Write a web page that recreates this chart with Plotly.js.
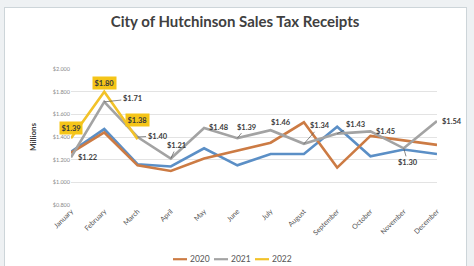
<!DOCTYPE html>
<html>
<head>
<meta charset="utf-8">
<script src="https://cdn.plot.ly/plotly-3.0.1.min.js"></script>
<style>
  body { margin: 0; background: #eef1f3; }
  #frame { position: absolute; left: 4px; top: 7px; width: 461px; height: 270px;
           background: #fff; border: 1px solid #cdd5d9; }
  #chart { position: absolute; left: 0; top: 0; width: 474px; height: 266px; }
</style>
</head>
<body>
<div id="frame"></div>
<div id="chart"></div>
<script>
let months = ["January", "February", "March", "April", "May", "June", "July",
  "August", "September", "October", "November", "December"];
let s2019 = [1.27, 1.47, 1.16, 1.14, 1.30, 1.15, 1.25, 1.25, 1.49, 1.23, 1.29, 1.25];
let s2020 = [1.26, 1.44, 1.15, 1.10, 1.21, 1.28, 1.35, 1.53, 1.13, 1.41, 1.37, 1.33];
let s2021 = [1.22, 1.71, 1.40, 1.21, 1.48, 1.39, 1.46, 1.34, 1.43, 1.45, 1.30, 1.54];
let s2022 = [1.39, 1.80, 1.38];
let yTicks = [0.8, 1.0, 1.2, 1.4, 1.6, 1.8, 2.0];

// label offsets in px [ax, ay, leader line]
let off2021 = [[16, 0, 0], [28, -3, 1], [20, -1, 1], [6, -13, 1], [15, 0, 0], [9, -11, 1],
  [10, -8, 0], [16, -18, 1], [18, -9, 1], [15, 0, 0], [4, 14, 1], [15, 0, 0]];
let off2022 = [[0, -10], [0, -9], [0, -19]];

function line(y, name, color, legend) {
  return {
    x: months.slice(0, y.length), y: y, name: name, type: "scatter", mode: "lines",
    line: { color: color, width: 2.6 }, showlegend: legend
  };
}

let data = [
  line(s2019, "2019", "#5b8fc6", false),
  line(s2020, "2020", "#cc7b44", true),
  line(s2021, "2021", "#a3a3a3", true),
  line(s2022, "2022", "#f2c229", true)
];

let annotations = [];
s2021.forEach(function (v, i) {
  annotations.push({
    x: months[i], y: v, text: "$" + v.toFixed(2), showarrow: true,
    ax: off2021[i][0], ay: off2021[i][1], arrowhead: 0, arrowwidth: 0.7,
    arrowcolor: off2021[i][2] ? "#555" : "rgba(0,0,0,0)",
    font: { family: "Lato", size: 7.5, color: "#404040", weight: "bold" }
  });
});
s2022.forEach(function (v, i) {
  annotations.push({
    x: months[i], y: v, text: "<b>$" + v.toFixed(2) + "</b>", showarrow: true,
    ax: off2022[i][0], ay: off2022[i][1], arrowcolor: "rgba(0,0,0,0)",
    bgcolor: "#f5c518", borderpad: 1.5,
    font: { family: "Lato", size: 7.5, color: "#3a3a3a" }
  });
});

// small legend drawn by hand (Excel style short lines)
let plotL = 71, plotW = 366, plotB = 204.7, plotH = 136.2;
let shapes = [];
let lx = 173, ly = 259;
data.filter(function (t) { return t.showlegend; }).forEach(function (t) {
  shapes.push({
    type: "line", xref: "paper", yref: "paper",
    x0: (lx - plotL) / plotW, x1: (lx + 14 - plotL) / plotW,
    y0: (plotB - ly) / plotH, y1: (plotB - ly) / plotH,
    line: { color: t.line.color, width: 2.2 }
  });
  annotations.push({
    xref: "paper", yref: "paper", x: (lx + 14.5 - plotL) / plotW, y: (plotB - ly) / plotH,
    xanchor: "left", yanchor: "middle", showarrow: false, text: t.name,
    font: { family: "Lato", size: 8.5, color: "#555" }
  });
  lx += 41;
});

let layout = {
  width: 474, height: 266,
  margin: { l: 71, r: 37, t: 68.5, b: 61.3 },
  paper_bgcolor: "rgba(0,0,0,0)", plot_bgcolor: "rgba(0,0,0,0)",
  font: { family: "Lato", color: "#555" },
  showlegend: false,
  title: {
    text: "<b>City of Hutchinson Sales Tax Receipts</b>",
    x: 0.496, xref: "container", y: 0.917, yanchor: "middle",
    font: { family: "Lato", size: 15, color: "#404040" }
  },
  xaxis: {
    type: "category", range: [0, 11], showgrid: false, zeroline: false, showline: false,
    tickangle: -45, tickfont: { size: 7, color: "#555" }, automargin: false
  },
  yaxis: {
    range: [0.8, 2.0], tickvals: yTicks, tickformat: "$.3f", automargin: false,
    tickfont: { size: 5.5, color: "#8a8a8a" },
    gridcolor: "#e3e3e3", gridwidth: 1, zeroline: false, showline: false,
    title: { text: "<b>Millions</b>", standoff: 14, font: { size: 8, color: "#404040" } }
  },
  shapes: shapes,
  annotations: annotations
};

Plotly.newPlot("chart", data, layout, { displayModeBar: false, staticPlot: true });
</script>
</body>
</html>
